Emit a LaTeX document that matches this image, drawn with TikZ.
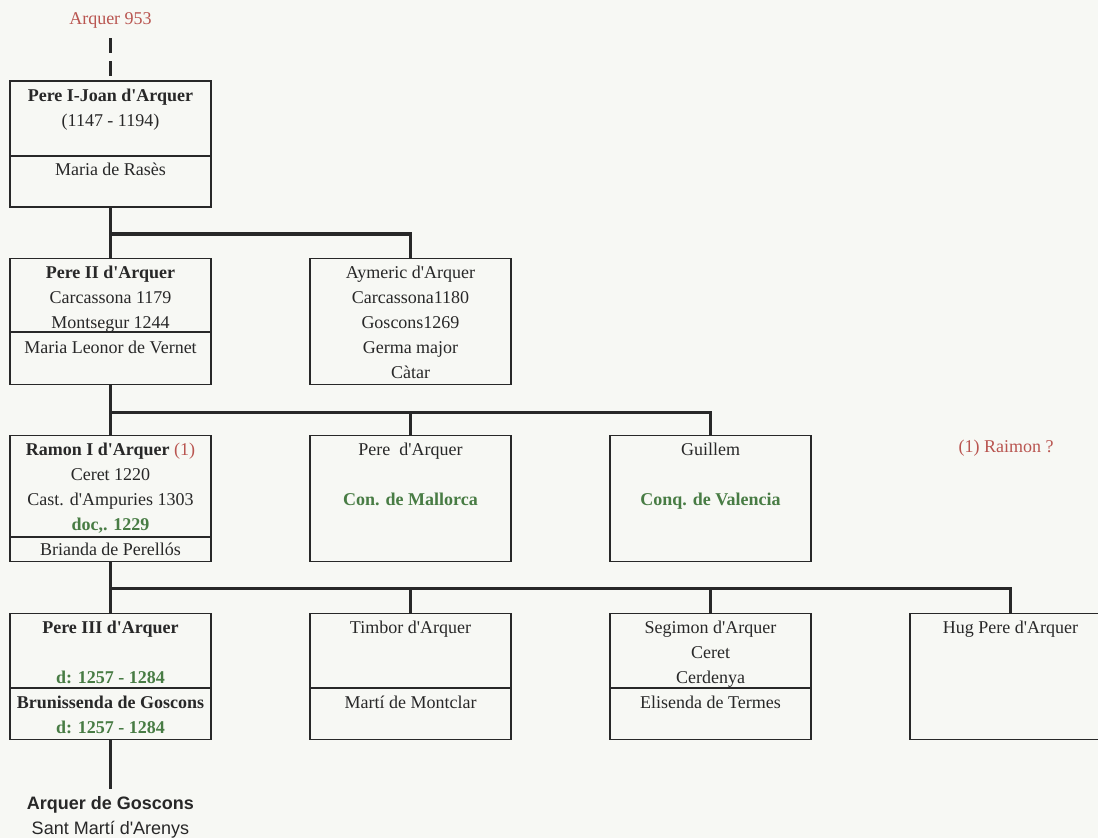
\documentclass[tikz,border=0pt]{standalone}
\usepackage{fontspec}
\usepackage{xcolor}
\usepackage{tikz}
\usetikzlibrary{positioning}

\newfontfamily\arqserif{Liberation Serif}
\newfontfamily\arqsans{Liberation Sans}

\definecolor{paper}{RGB}{247,248,244}
\definecolor{ink}{RGB}{40,40,40}
\definecolor{arqred}{RGB}{185,85,80}
\definecolor{arqgreen}{RGB}{72,124,68}

\begin{document}
\begin{tikzpicture}[
  x=1pt, y=-1pt,
  person/.style={
    rectangle,
    draw=ink,
    line width=1.6pt,
    minimum width=201pt,
    minimum height=126pt,
    inner sep=0pt
  },
  txt/.style={
    anchor=north,
    inner sep=0pt,
    align=center,
    text=ink,
    font=\arqserif\fontsize{18}{24.8}\selectfont
  },
  divider/.style={
    line width=1.6pt,
    draw=ink
  },
  flow/.style={
    line width=3.6pt,
    draw=ink
  },
  dashflow/.style={
    line width=3.6pt,
    draw=ink,
    dash pattern=on 15pt off 8pt
  },
  note/.style={
    inner sep=0pt,
    text=arqred,
    font=\arqserif\fontsize{18}{24.8}\selectfont
  }
]
\fill[paper] (0,0) rectangle (1098,838);
\useasboundingbox (0,0) rectangle (1098,838);

% Generation 1
\node[note] (origin) at (110.5,20) {Arquer 953};
\node[person] (pereI) at (110.5,144) {};
\node[txt] (pereI-t) at ([yshift=-3.6pt]pereI.north)
  {\strut\textbf{Pere I-Joan d'Arquer}\\(1147 - 1194)\\\strut\\Maria de Rasès};
\draw[divider] ([yshift=-76pt]pereI.north west) -- ([yshift=-76pt]pereI.north east);

% Generation 2
\node[person] (pereII) at (110.5,321.5) {};
\node[txt] (pereII-t) at ([yshift=-3.6pt]pereII.north)
  {\strut\textbf{Pere II d'Arquer}\\Carcassona 1179\\Montsegur 1244\\Maria Leonor de Vernet};
\draw[divider] ([yshift=-74pt]pereII.north west) -- ([yshift=-74pt]pereII.north east);

\node[person] (aymeric) at (410.5,321.5) {};
\node[txt] (aymeric-t) at ([yshift=-3.6pt]aymeric.north)
  {\strut Aymeric d'Arquer\\Carcassona1180\\Goscons1269\\Germa major\\Càtar};

% Generation 3
\node[person] (ramon) at (110.5,498.5) {};
\node[txt] (ramon-t) at ([yshift=-3.6pt]ramon.north)
  {\strut\textbf{Ramon I d'Arquer} {\color{arqred}(1)}\\Ceret 1220\\Cast. d'Ampuries 1303\\
   \textcolor{arqgreen}{\textbf{doc,. 1229}}\\Brianda de Perellós};
\draw[divider] ([yshift=-102pt]ramon.north west) -- ([yshift=-102pt]ramon.north east);

\node[person] (pereM) at (410.5,498.5) {};
\node[txt] (pereM-t) at ([yshift=-3.6pt]pereM.north)
  {\strut Pere~~d'Arquer\\\strut\\\textcolor{arqgreen}{\textbf{Con. de Mallorca}}};

\node[person] (guillem) at (710.5,498.5) {};
\node[txt] (guillem-t) at ([yshift=-3.6pt]guillem.north)
  {\strut Guillem\\\strut\\\textcolor{arqgreen}{\textbf{Conq. de Valencia}}};

\node[note] (raimon) at (1006,448) {(1) Raimon ?};

% Generation 4
\node[person] (pereIII) at (110.5,676.5) {};
\node[txt] (pereIII-t) at ([yshift=-3.6pt]pereIII.north)
  {\strut\textbf{Pere III d'Arquer}\\\strut\\\textcolor{arqgreen}{\textbf{d: 1257 - 1284}}\\
   \textbf{Brunissenda de Goscons}\\\textcolor{arqgreen}{\textbf{d: 1257 - 1284}}};
\draw[divider] ([yshift=-75pt]pereIII.north west) -- ([yshift=-75pt]pereIII.north east);

\node[person] (timbor) at (410.5,676.5) {};
\node[txt] (timbor-t) at ([yshift=-3.6pt]timbor.north)
  {\strut Timbor d'Arquer\\\strut\\\strut\\Martí de Montclar};
\draw[divider] ([yshift=-75pt]timbor.north west) -- ([yshift=-75pt]timbor.north east);

\node[person] (segimon) at (710.5,676.5) {};
\node[txt] (segimon-t) at ([yshift=-3.6pt]segimon.north)
  {\strut Segimon d'Arquer\\Ceret\\Cerdenya\\Elisenda de Termes};
\draw[divider] ([yshift=-75pt]segimon.north west) -- ([yshift=-75pt]segimon.north east);

\node[person] (hug) at (1010.5,676.5) {};
\node[txt] (hug-t) at ([yshift=-3.6pt]hug.north) {\strut Hug Pere d'Arquer};

% Descendants
\coordinate (stem) at (110.5,789);
\node[txt, font=\arqsans\fontsize{18}{24.8}\selectfont] (goscons) at (110.5,792)
  {\strut\textbf{Arquer de Goscons}\\Sant Martí d'Arenys};

% Connections
\draw[dashflow] ([yshift=-10pt]origin.south) -- (pereI.north);
\draw[flow] (pereI) -- (pereII);
\draw[flow] (pereI.south) -- ++(0,26) -| (aymeric.north);
\draw[flow] (pereII) -- (ramon);
\draw[flow] (pereII.south) -- ++(0,27) -| (pereM.north);
\draw[flow] (pereII.south) ++(0,27) -| (guillem.north);
\draw[flow] (ramon) -- (pereIII);
\draw[flow] (ramon.south) -- ++(0,26) -| (timbor.north);
\draw[flow] (ramon.south) ++(0,26) -| (segimon.north);
\draw[flow] (ramon.south) ++(0,26) -| (hug.north);
\draw[flow] (pereIII) -- (stem);
\end{tikzpicture}
\end{document}
